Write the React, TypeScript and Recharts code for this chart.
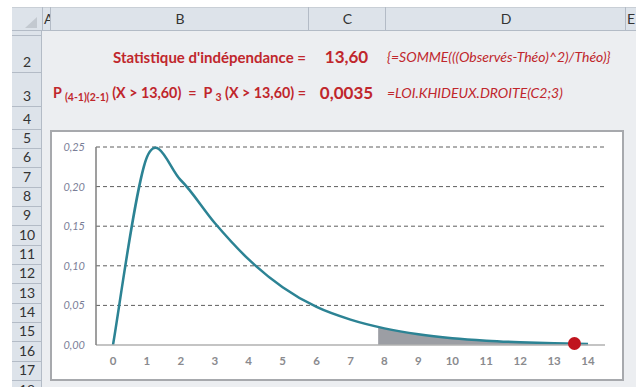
import React from "react";
import {
  ComposedChart,
  Line,
  Area,
  Scatter,
  XAxis,
  YAxis,
  CartesianGrid,
} from "recharts";

// chi-square (3 ddl) density read at the integer points of the sheet
const xValues = [0, 1, 2, 3, 4, 5, 6, 7, 8, 9, 10, 11, 12, 13, 14];
const density = [
  0, 0.237, 0.208, 0.154, 0.108, 0.073, 0.048, 0.032, 0.021, 0.0135, 0.0086,
  0.0055, 0.0035, 0.0022, 0.0014,
];
// rejection zone (from the 5% critical value)
const tailX = [7.815, 8, 9, 10, 11, 12, 13, 14];
const tailDensity = [0.0226, 0.021, 0.0135, 0.0086, 0.0055, 0.0035, 0.0022, 0.0014];
// observed statistic
const observedX = [13.6];
const observedY = [0.0019];

const xTicks = [0, 1, 2, 3, 4, 5, 6, 7, 8, 9, 10, 11, 12, 13, 14];
const yTicks = [0, 0.05, 0.1, 0.15, 0.2, 0.25];

const columns = [
  { label: "A", left: 42, right: 50 },
  { label: "B", left: 50, right: 308 },
  { label: "C", left: 308, right: 385 },
  { label: "D", left: 385, right: 625 },
  { label: "E", left: 625, right: 660 },
];
const rowLabels = ["1", "2", "3", "4", "5", "6", "7", "8", "9", "10", "11", "12", "13", "14", "15", "16", "17", "18"];
const rowHeights = [5, 37, 34, 22.7, 19.33, 19.33, 19.33, 19.33, 19.33, 19.33, 19.33, 19.33, 19.33, 19.33, 19.33, 19.33, 19.33, 20];

const curveData = xValues.map((x, i) => ({ x, y: density[i] }));
const tailData = tailX.map((x, i) => ({ x, y: tailDensity[i] }));
const dotData = observedX.map((x, i) => ({ x, y: observedY[i] }));

const FONT = "Lato, 'Open Sans', sans-serif";
const RED = "#c0262c";
const HEADER_BG = "#dde3ea";
const SHEET_BG = "#eceef1";
const LINE = "#b3bbc6";

// Excel-like smoothed line (Catmull-Rom through every point)
const excelSmooth = (context: any) => {
  let pts: number[][] = [];
  let line = NaN;
  return {
    areaStart() {
      line = 0;
    },
    areaEnd() {
      line = NaN;
    },
    lineStart() {
      pts = [];
    },
    point(x: number, y: number) {
      pts.push([+x, +y]);
    },
    lineEnd() {
      const n = pts.length;
      if (n > 0) {
        if (line) context.lineTo(pts[0][0], pts[0][1]);
        else context.moveTo(pts[0][0], pts[0][1]);
        for (let i = 0; i < n - 1; i++) {
          const p0 = pts[Math.max(i - 1, 0)];
          const p1 = pts[i];
          const p2 = pts[i + 1];
          const p3 = pts[Math.min(i + 2, n - 1)];
          context.bezierCurveTo(
            p1[0] + (p2[0] - p0[0]) / 6,
            p1[1] + (p2[1] - p0[1]) / 6,
            p2[0] - (p3[0] - p1[0]) / 6,
            p2[1] - (p3[1] - p1[1]) / 6,
            p2[0],
            p2[1]
          );
        }
      }
      if (line || (line !== 0 && n === 1)) context.closePath();
      line = 1 - line;
    },
  };
};

const fmt = (v: number) => v.toFixed(2).replace(".", ",");

function SheetFrame() {
  let y = 31;
  const rows = rowLabels.map((label, i) => {
    const top = y;
    const h = rowHeights[i];
    y += h;
    return (
      <div
        key={label}
        style={{
          position: "absolute",
          left: 12,
          top,
          width: 30,
          height: h,
          borderBottom: `1px solid ${LINE}`,
          boxSizing: "border-box",
          overflow: "hidden",
        }}
      >
        <div
          style={{
            position: "absolute",
            left: 0,
            width: 30,
            bottom: 2,
            textAlign: "center",
            fontSize: 14,
            lineHeight: "17px",
            color: "#333",
          }}
        >
          {label}
        </div>
      </div>
    );
  });

  return (
    <>
      {/* column header band */}
      <div style={{ position: "absolute", left: 12, top: 7, width: 624, height: 24, background: HEADER_BG, borderBottom: `1px solid ${LINE}`, boxSizing: "border-box" }} />
      <div style={{ position: "absolute", left: 12, top: 7, width: 624, height: 1, background: "#c9cfd6" }} />
      <svg style={{ position: "absolute", left: 0, top: 0 }} width={50} height={31}>
        <polygon points="37,17 37,28 25,28" fill="#c3c9d0" />
      </svg>
      {columns.map((c) => {
        const edge = c.label === "A" || c.label === "E";
        return (
          <div
            key={c.label}
            style={{
              position: "absolute",
              left: c.left,
              top: 7,
              width: Math.min(c.right, 636) - c.left,
              height: 23,
              borderLeft: `1px solid ${LINE}`,
              boxSizing: "border-box",
              overflow: "hidden",
            }}
          >
            <div
              style={{
                position: "absolute",
                left: 0,
                width: edge ? 14 : c.right - c.left,
                textAlign: edge ? "left" : "center",
                paddingLeft: edge ? 1 : 0,
                top: 3,
                fontSize: 14,
                lineHeight: "17px",
                color: "#333",
              }}
            >
              {c.label}
            </div>
          </div>
        );
      })}
      {/* row header */}
      <div style={{ position: "absolute", left: 12, top: 31, width: 30, height: 360, background: HEADER_BG, borderRight: `1px solid ${LINE}`, boxSizing: "border-box" }} />
      {rows}
    </>
  );
}

function Formulas() {
  const base: React.CSSProperties = {
    position: "absolute",
    height: 20,
    lineHeight: "20px",
    whiteSpace: "pre",
    color: RED,
  };
  const sub: React.CSSProperties = { fontSize: 10.5, verticalAlign: -3 };
  return (
    <>
      <div style={{ ...base, right: 636 - 306, top: 47, fontSize: 15, fontWeight: 700 }}>
        Statistique d'indépendance =
      </div>
      <div style={{ ...base, left: 308, width: 77, textAlign: "center", top: 47, fontSize: 17, fontWeight: 700 }}>
        13,60
      </div>
      <div style={{ ...base, left: 387, top: 47, fontSize: 14, fontStyle: "italic" }}>
        {"{=SOMME(((Observés-Théo)^2)/Théo)}"}
      </div>
      <div style={{ ...base, right: 636 - 306, top: 83, fontSize: 14.3, fontWeight: 700 }}>
        P <span style={sub}>(4-1)(2-1)</span> (X {">"} 13,60)  =  P <span style={sub}>3</span> (X {">"} 13,60) =
      </div>
      <div style={{ ...base, left: 308, width: 77, textAlign: "center", top: 83, fontSize: 17, fontWeight: 700 }}>
        0,0035
      </div>
      <div style={{ ...base, left: 387, top: 83, fontSize: 14, fontStyle: "italic" }}>
        =LOI.KHIDEUX.DROITE(C2;3)
      </div>
    </>
  );
}

export default function App() {
  return (
    <div
      style={{
        position: "fixed",
        left: 0,
        top: 0,
        width: 636,
        height: 387,
        overflow: "hidden",
        background: "#fff",
        fontFamily: FONT,
      }}
    >
      <div style={{ position: "absolute", left: 42, top: 31, width: 594, height: 360, background: SHEET_BG }} />
      <SheetFrame />
      <Formulas />

      <div
        style={{
          position: "absolute",
          left: 50,
          top: 130,
          width: 574,
          height: 251,
          border: "2px solid #a7a9ad",
          boxSizing: "border-box",
          background: "#fff",
        }}
      >
        <ComposedChart
          width={570}
          height={247}
          margin={{ top: 15, right: 17, left: 0, bottom: 0 }}
        >
          <CartesianGrid
            vertical={false}
            horizontalValues={[0.05, 0.1, 0.15, 0.2, 0.25]}
            stroke="#5e5e5e"
            strokeDasharray="4 3"
          />
          <XAxis
            dataKey="x"
            type="number"
            domain={[-0.5, 14.5]}
            ticks={xTicks}
            interval={0}
            height={34}
            tickLine={false}
            tickMargin={6}
            axisLine={{ stroke: "#b0b0b0", strokeWidth: 1.5 }}
            tick={{ fill: "#8a8a8e", fontSize: 11.5, fontWeight: 700, fontFamily: FONT }}
          />
          <YAxis
            type="number"
            domain={[0, 0.25]}
            ticks={yTicks}
            interval={0}
            width={44}
            tickLine={false}
            tickMargin={5}
            tickFormatter={fmt}
            axisLine={{ stroke: "#7f7f7f", strokeWidth: 1.5 }}
            tick={{ fill: "#7b7e98", fontSize: 11, fontStyle: "italic", fontFamily: FONT }}
          />
          <Area
            data={tailData}
            dataKey="y"
            type={excelSmooth as any}
            fill="#9c9ea4"
            fillOpacity={1}
            stroke="none"
            isAnimationActive={false}
          />
          <Line
            data={curveData}
            dataKey="y"
            type={excelSmooth as any}
            stroke="#2c8394"
            strokeWidth={2.5}
            dot={false}
            activeDot={false}
            isAnimationActive={false}
          />
          <Scatter
            data={dotData}
            dataKey="y"
            isAnimationActive={false}
            shape={(p: any) => <circle cx={p.cx} cy={p.cy} r={6.5} fill="#c0141e" />}
          />
        </ComposedChart>
      </div>
    </div>
  );
}
